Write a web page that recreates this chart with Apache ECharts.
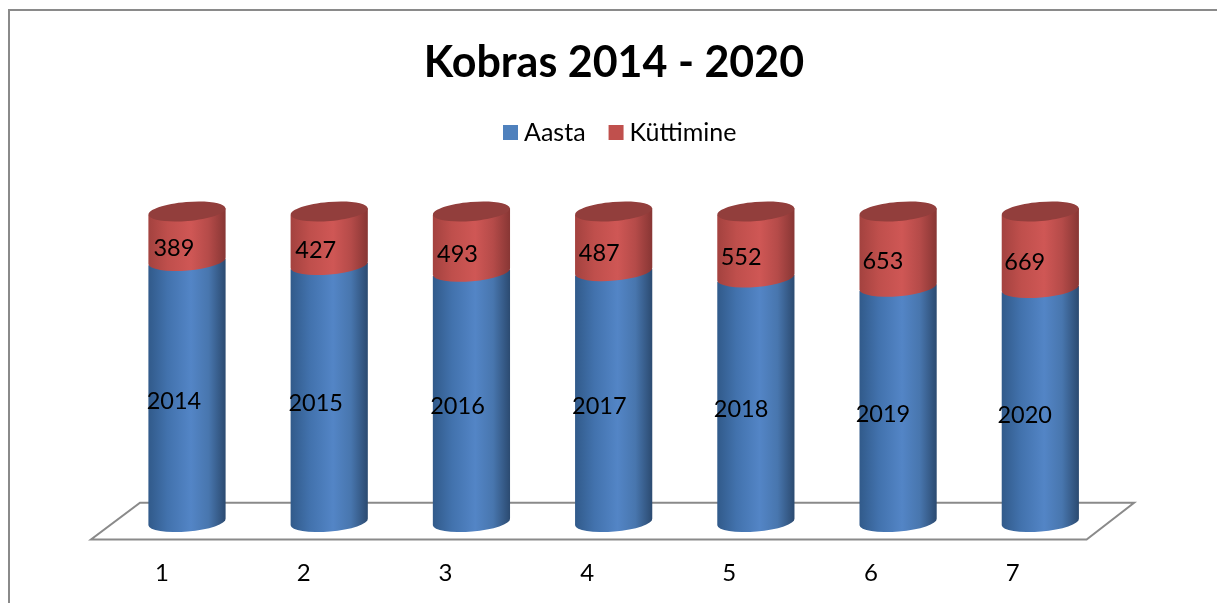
<!DOCTYPE html>
<html>
<head>
<meta charset="utf-8">
<title>Kobras 2014 - 2020</title>
<style>
html, body { margin: 0; padding: 0; background: #fff; }
#chart { width: 1217px; height: 603px; }
</style>
<script src="https://cdn.jsdelivr.net/npm/echarts@6/dist/echarts.min.js"></script>
</head>
<body>
<div id="chart"></div>
<script>
var categories = ['1', '2', '3', '4', '5', '6', '7'];
var aasta = [2014, 2015, 2016, 2017, 2018, 2019, 2020];
var kyttimine = [389, 427, 493, 487, 552, 653, 669];

var fontName = 'Lato, "Noto Sans", sans-serif';
var lineColor = '#8a8a8a';

// 100% stack: [category, start share, end share, raw value]
var aastaRows = [];
var kyttimineRows = [];
for (var i = 0; i < categories.length; i++) {
    var total = aasta[i] + kyttimine[i];
    var split = aasta[i] / total;
    aastaRows.push([i, 0, split, aasta[i]]);
    kyttimineRows.push([i, split, 1, kyttimine[i]]);
}

function sideFill(stops) {
    return new echarts.graphic.LinearGradient(0, 0, 1, 0, stops);
}

var blueFill = sideFill([
    { offset: 0, color: '#315a8a' },
    { offset: 0.25, color: '#4272ad' },
    { offset: 0.55, color: '#5385c6' },
    { offset: 0.78, color: '#4876ae' },
    { offset: 1, color: '#2b4a70' }
]);
var redFill = sideFill([
    { offset: 0, color: '#a3423f' },
    { offset: 0.25, color: '#bf4f4c' },
    { offset: 0.55, color: '#cf5755' },
    { offset: 0.78, color: '#b54b49' },
    { offset: 1, color: '#873634' }
]);

// cylinder sits behind the axis, shifted into the depth of the floor
function cylinder(params, api, fill, capped, labelDy) {
    var idx = api.value(0);
    var base = api.coord([idx, api.value(1)]);
    var top = api.coord([idx, api.value(2)]);
    var cx = base[0] + 25.1 + idx * 0.42;
    var y0 = base[1] - 18;
    var y1 = top[1] - 17;
    var rx = 38.6;
    var ry = 9.5;
    var tilt = 3.3;
    var rot = -4.9;
    var path = 'M' + (cx - rx) + ' ' + (y1 + tilt) +
        ' L' + (cx - rx) + ' ' + (y0 + tilt) +
        ' A' + rx + ' ' + ry + ' ' + rot + ' 0 0 ' + (cx + rx) + ' ' + (y0 - tilt) +
        ' L' + (cx + rx) + ' ' + (y1 - tilt) + ' Z';
    var children = [{
        type: 'path',
        shape: { pathData: path },
        style: { fill: fill }
    }];
    if (capped) {
        children.push({
            type: 'ellipse',
            x: cx,
            y: y1,
            rotation: -rot * Math.PI / 180,
            shape: { cx: 0, cy: 0, rx: rx, ry: ry },
            style: { fill: '#923e3c' }
        });
    }
    var mid = api.coord([idx, (api.value(1) + api.value(2)) / 2]);
    children.push({
        type: 'text',
        x: mid[0] + 12,
        y: mid[1] + labelDy,
        style: {
            text: String(api.value(3)),
            fill: '#000',
            font: '23.5px ' + fontName,
            textAlign: 'center',
            textVerticalAlign: 'middle'
        }
    });
    return { type: 'group', children: children };
}

function renderFloor(params, api) {
    var g = params.coordSys;
    var y = g.y + g.height - 0.5;
    var right = g.x + g.width + 3;
    return {
        type: 'polygon',
        shape: { points: [[g.x, y], [right, y], [right + 47.5, y - 36.7], [g.x + 49, y - 36.7]] },
        style: { fill: 'none', stroke: lineColor, lineWidth: 2 }
    };
}

var myChart = echarts.init(document.getElementById('chart'));
myChart.setOption({
    animation: false,
    backgroundColor: '#fff',
    title: {
        text: 'Kobras 2014 - 2020',
        left: 609,
        top: 37,
        textAlign: 'center',
        textStyle: { color: '#000', fontFamily: fontName, fontWeight: 'bold', fontSize: 43 }
    },
    legend: {
        data: ['Aasta', 'Küttimine'],
        left: 498,
        top: 115,
        icon: 'rect',
        itemWidth: 15,
        itemHeight: 15,
        itemGap: 23,
        textStyle: { color: '#000', fontFamily: fontName, fontSize: 25, padding: [0, 0, 0, 1] }
    },
    grid: { left: 91, width: 992.6, top: 228.5, height: 311.5 },
    xAxis: {
        type: 'category',
        data: categories,
        axisLine: { show: false },
        axisTick: { show: false },
        axisLabel: { color: '#000', fontFamily: fontName, fontSize: 24, margin: 21 }
    },
    yAxis: { type: 'value', min: 0, max: 1, show: false },
    graphic: [{
        type: 'polyline',
        shape: { points: [[9, 603], [9, 10], [1217, 10]] },
        style: { fill: 'none', stroke: lineColor, lineWidth: 2 }
    }],
    series: [
        {
            name: 'floor',
            type: 'custom',
            coordinateSystem: 'cartesian2d',
            renderItem: renderFloor,
            data: [[0, 0]],
            silent: true,
            z: 1
        },
        {
            name: 'Aasta',
            type: 'custom',
            coordinateSystem: 'cartesian2d',
            renderItem: function (params, api) {
                return cylinder(params, api, blueFill, false, -8);
            },
            encode: { x: 0, y: 2 },
            itemStyle: { color: '#4f81bd' },
            data: aastaRows,
            z: 2
        },
        {
            name: 'Küttimine',
            type: 'custom',
            coordinateSystem: 'cartesian2d',
            renderItem: function (params, api) {
                return cylinder(params, api, redFill, true, -5);
            },
            encode: { x: 0, y: 2 },
            itemStyle: { color: '#c0504d' },
            data: kyttimineRows,
            z: 3
        }
    ]
});
</script>
</body>
</html>
